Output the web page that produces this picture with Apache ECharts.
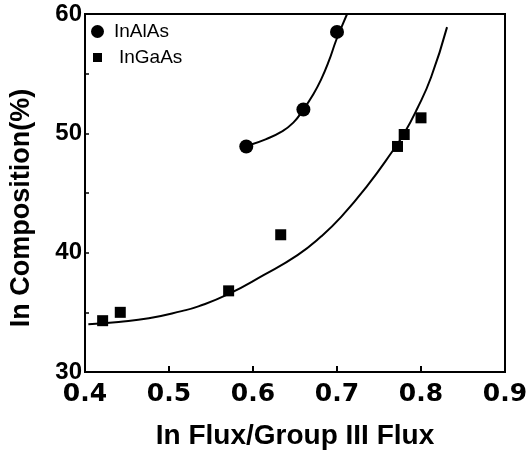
<!DOCTYPE html>
<html>
<head>
<meta charset="utf-8">
<script src="https://cdn.jsdelivr.net/npm/echarts@6/dist/echarts.min.js"></script>
<style>
  html, body { margin: 0; padding: 0; background: #fff; }
  #chart { width: 532px; height: 455px; }
</style>
</head>
<body>
<div id="chart"></div>
<script>
// measured points
const inAlAsX = [0.592, 0.660, 0.700]
const inAlAsY = [48.9, 52.0, 58.5]
const inGaAsX = [0.421, 0.442, 0.571, 0.633, 0.772, 0.780, 0.800]
const inGaAsY = [34.3, 35.0, 36.8, 41.5, 48.9, 49.9, 51.3]

// fitted curves
const inAlAsFitX = [0.597, 0.615, 0.633, 0.648, 0.660, 0.672, 0.681, 0.690, 0.699, 0.706, 0.712]
const inAlAsFitY = [49.05, 49.5, 50.1, 50.9, 52.0, 53.3, 54.5, 56.0, 57.8, 59.0, 60.0]
const inGaAsFitX = [0.404, 0.440, 0.476, 0.515, 0.535, 0.570, 0.612, 0.653, 0.681, 0.705, 0.736, 0.766, 0.780, 0.795, 0.812, 0.831]
const inGaAsFitY = [34.0, 34.2, 34.5, 35.1, 35.5, 36.5, 38.1, 39.8, 41.35, 43.0, 45.6, 48.5, 50.0, 52.0, 54.7, 58.9]

const xTicks = ['0.4', '0.5', '0.6', '0.7', '0.8', '0.9']
const yTicks = ['30', '40', '50', '60']

const pairs = (xs, ys) => xs.map((x, i) => [x, ys[i]])

const font = 'Liberation Sans, Arial, Helvetica, sans-serif'

const chart = echarts.init(document.getElementById('chart'))

chart.setOption({
  animation: false,
  backgroundColor: '#fff',
  grid: {
    left: 83,
    right: 27,
    top: 14,
    bottom: 80,
    show: true,
    borderColor: '#000',
    borderWidth: 2
  },
  legend: [
    {
      left: 86,
      top: 17,
      itemWidth: 13,
      itemHeight: 13,
      textStyle: { fontFamily: font, fontSize: 19, color: '#000', padding: [0, 0, 0, 5] },
      data: [{ name: 'InAlAs', icon: 'circle' }]
    },
    {
      left: 88,
      top: 43,
      itemWidth: 9,
      itemHeight: 9,
      textStyle: { fontFamily: font, fontSize: 19, color: '#000', padding: [0, 0, 0, 12] },
      data: [{ name: 'InGaAs', icon: 'rect' }]
    }
  ],
  xAxis: {
    type: 'value',
    min: 0.4,
    max: 0.9,
    interval: 0.1,
    name: 'In Flux/Group III Flux',
    nameLocation: 'middle',
    nameGap: 50,
    nameTextStyle: { fontFamily: font, fontSize: 28, fontWeight: 'bold', color: '#000' },
    axisLine: { show: true, lineStyle: { color: '#000', width: 2 } },
    axisTick: { show: true, inside: true, length: 6, lineStyle: { color: '#000', width: 2 } },
    axisLabel: {
      fontFamily: 'DejaVu Sans', fontSize: 25, fontWeight: 'bold', color: '#000', margin: 10,
      formatter: v => xTicks[Math.round((v - 0.4) * 10)]
    },
    splitLine: { show: false }
  },
  yAxis: {
    type: 'value',
    min: 30,
    max: 60,
    interval: 5,
    name: 'In Composition(%)',
    nameLocation: 'middle',
    nameGap: 50,
    nameTextStyle: { fontFamily: font, fontSize: 27, fontWeight: 'bold', color: '#000', padding: [0, 30, 0, 0] },
    axisLine: { show: true, lineStyle: { color: '#000', width: 2 } },
    axisTick: { show: true, inside: true, length: 4, lineStyle: { color: '#000', width: 1.5 } },
    axisLabel: {
      fontFamily: font, fontSize: 24, fontWeight: 'bold', color: '#000', margin: 3,
      formatter: v => (v % 10 === 0 ? yTicks[(v - 30) / 10] : '')
    },
    splitLine: { show: false }
  },
  series: [
    {
      name: 'InAlAs',
      type: 'scatter',
      symbol: 'circle',
      symbolSize: 14,
      itemStyle: { color: '#000', opacity: 1 },
      data: pairs(inAlAsX, inAlAsY),
      z: 3
    },
    {
      name: 'InGaAs',
      type: 'scatter',
      symbol: 'rect',
      symbolSize: 11,
      itemStyle: { color: '#000', opacity: 1 },
      data: pairs(inGaAsX, inGaAsY),
      z: 3
    },
    {
      name: 'InAlAs fit',
      type: 'line',
      smooth: 0.5,
      showSymbol: false,
      lineStyle: { color: '#000', width: 2 },
      data: pairs(inAlAsFitX, inAlAsFitY)
    },
    {
      name: 'InGaAs fit',
      type: 'line',
      smooth: 0.5,
      showSymbol: false,
      lineStyle: { color: '#000', width: 2 },
      data: pairs(inGaAsFitX, inGaAsFitY)
    }
  ]
})
</script>
</body>
</html>
